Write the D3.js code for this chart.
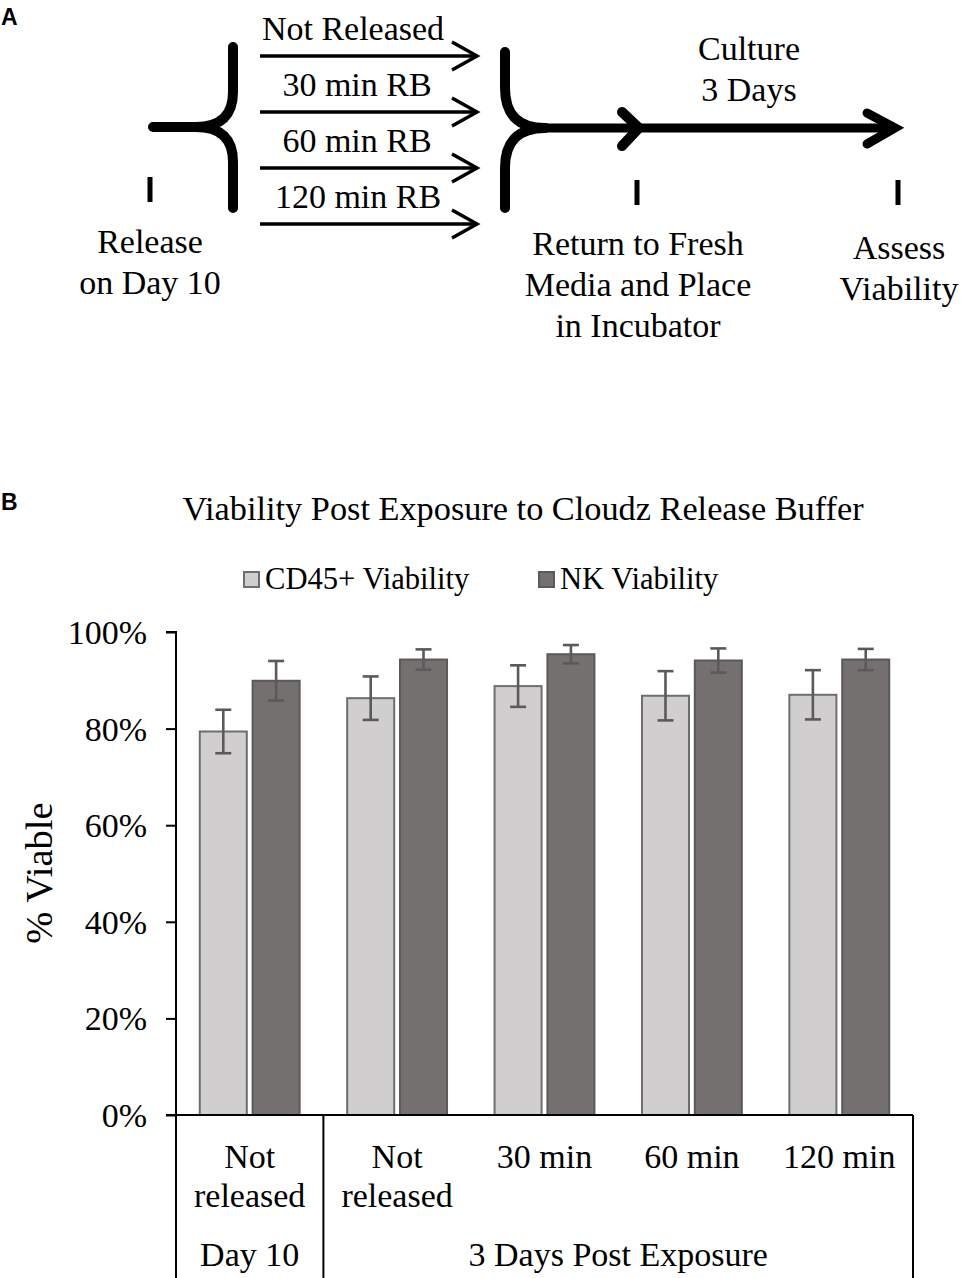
<!DOCTYPE html>
<html>
<head>
<meta charset="utf-8">
<script src="https://cdn.jsdelivr.net/npm/d3@7"></script>
<style>
  html, body { margin: 0; padding: 0; background: #fff; }
  svg { display: block; }
  text { font-family: "Liberation Serif", "Times New Roman", serif; fill: #000; }
</style>
</head>
<body>
<svg id="fig" width="961" height="1278"></svg>
<script>
// ---------------- DATA ----------------
const categories = ["Not released|D10", "Not released|D3", "30 min", "60 min", "120 min"];
const categoryLabels = [["Not", "released"], ["Not", "released"], ["30 min"], ["60 min"], ["120 min"]];
const groupLabels = ["Day 10", "3 Days Post Exposure"];
const groupSpans = [1, 4];
const seriesNames = ["CD45+ Viability", "NK Viability"];
const cd45Values = [79.4, 86.3, 88.8, 86.8, 87.0];
const cd45Errors = [4.5, 4.5, 4.3, 5.1, 5.1];
const nkValues = [89.9, 94.3, 95.4, 94.1, 94.3];
const nkErrors = [4.1, 2.1, 1.9, 2.5, 2.2];
const yTicks = [0, 20, 40, 60, 80, 100];
const chartTitle = "Viability Post Exposure to Cloudz Release Buffer";
const yAxisLabel = "% Viable";
const diagramBranchLabels = ["Not Released", "30 min RB", "60 min RB", "120 min RB"];
const diagramStep1 = ["Release", "on Day 10"];
const diagramStep2 = ["Return to Fresh", "Media and Place", "in Incubator"];
const diagramStep3 = ["Assess", "Viability"];
const diagramCulture = ["Culture", "3 Days"];

// ---------------- SETUP ----------------
const svg = d3.select("#fig");
const SERIF = "'Liberation Serif', 'Times New Roman', serif";
const SANS = "'Liberation Sans', Arial, sans-serif";
const DFS = "34px";

// ================= PANEL A (schematic) =================
svg.append("text").attr("x", 1).attr("y", 25)
  .style("font-family", SANS).style("font-weight", "bold").style("font-size", "23px")
  .text("A");

const gA = svg.append("g");

// left tick + label
gA.append("line").attr("x1", 150).attr("x2", 150).attr("y1", 177).attr("y2", 202)
  .attr("stroke", "#000").attr("stroke-width", 5);
diagramStep1.forEach((t, i) => {
  gA.append("text").attr("x", 150).attr("y", 253 + i * 41).attr("text-anchor", "middle")
    .style("font-size", DFS).text(t);
});

// left bracket (stem + two arms)
gA.append("path")
  .attr("d", "M153,127 L196,127 Q233,127 233,92 L233,47")
  .attr("fill", "none").attr("stroke", "#000").attr("stroke-width", 10)
  .attr("stroke-linecap", "round").attr("stroke-linejoin", "round");
gA.append("path")
  .attr("d", "M196,127 Q233,127 233,162 L233,208")
  .attr("fill", "none").attr("stroke", "#000").attr("stroke-width", 10)
  .attr("stroke-linecap", "round");
gA.append("rect").attr("x", 153).attr("y", 122).attr("width", 10).attr("height", 10).attr("fill", "#000");

// thin arrows
const arrowY = [56, 112, 168, 224];
const labelX = [353, 357, 357, 358];
diagramBranchLabels.forEach((t, i) => {
  const y = arrowY[i];
  gA.append("line").attr("x1", 260).attr("x2", 475).attr("y1", y).attr("y2", y)
    .attr("stroke", "#000").attr("stroke-width", 3.5);
  gA.append("path").attr("d", `M452,${y - 14} L477,${y} L452,${y + 14}`)
    .attr("fill", "none").attr("stroke", "#000").attr("stroke-width", 3.5);
  gA.append("text").attr("x", labelX[i]).attr("y", y - 16).attr("text-anchor", "middle")
    .style("font-size", DFS).text(t);
});

// right bracket
gA.append("path")
  .attr("d", "M505,52 L505,88 Q505,128 545,128")
  .attr("fill", "none").attr("stroke", "#000").attr("stroke-width", 10)
  .attr("stroke-linecap", "round");
gA.append("path")
  .attr("d", "M505,208 L505,168 Q505,128 545,128")
  .attr("fill", "none").attr("stroke", "#000").attr("stroke-width", 10)
  .attr("stroke-linecap", "round");
// long line
gA.append("line").attr("x1", 540).attr("x2", 893).attr("y1", 128).attr("y2", 128)
  .attr("stroke", "#000").attr("stroke-width", 9);
// chevrons
gA.append("path").attr("d", "M622,112 L639,128 L622,146")
  .attr("fill", "none").attr("stroke", "#000").attr("stroke-width", 10)
  .attr("stroke-linecap", "round").attr("stroke-linejoin", "miter");
gA.append("path").attr("d", "M867,113 L895,128 L867,144")
  .attr("fill", "none").attr("stroke", "#000").attr("stroke-width", 9)
  .attr("stroke-linecap", "round").attr("stroke-linejoin", "miter");

// ticks
[637, 898].forEach(x => {
  gA.append("line").attr("x1", x).attr("x2", x).attr("y1", 180).attr("y2", 205)
    .attr("stroke", "#000").attr("stroke-width", 5);
});

diagramCulture.forEach((t, i) => {
  gA.append("text").attr("x", 749).attr("y", 60 + i * 41).attr("text-anchor", "middle")
    .style("font-size", DFS).text(t);
});
diagramStep2.forEach((t, i) => {
  gA.append("text").attr("x", 638).attr("y", 255 + i * 41).attr("text-anchor", "middle")
    .style("font-size", DFS).text(t);
});
diagramStep3.forEach((t, i) => {
  gA.append("text").attr("x", 899).attr("y", 259 + i * 41).attr("text-anchor", "middle")
    .style("font-size", DFS).text(t);
});

// ================= PANEL B (bar chart) =================
svg.append("text").attr("x", 1).attr("y", 510)
  .style("font-family", SANS).style("font-weight", "bold").style("font-size", "23px")
  .text("B");

svg.append("text").attr("x", 523).attr("y", 520).attr("text-anchor", "middle")
  .style("font-size", "34.3px").text(chartTitle);

const plot = { left: 176, right: 913, top: 632, bottom: 1115 };

const y = d3.scaleLinear().domain([0, 100]).range([plot.bottom, plot.top]);
const x0 = d3.scaleBand().domain(categories).range([plot.left, plot.right]).padding(0);
const x1 = d3.scaleBand().domain(seriesNames).range([0, x0.bandwidth()])
  .paddingInner(0.11).paddingOuter(0.45);

const fills = ["#d0cecf", "#757070"];
const strokes = ["#6e6e6e", "#5c5959"];

// legend
const legendX = [243, 538];
seriesNames.forEach((s, i) => {
  svg.append("rect").attr("x", legendX[i] + 1).attr("y", 572).attr("width", 15).attr("height", 15)
    .attr("fill", fills[i]).attr("stroke", strokes[i]).attr("stroke-width", 2);
  svg.append("text").attr("x", legendX[i] + 22).attr("y", 589)
    .style("font-size", "30.6px").text(s);
});

// data table built from arrays
const table = categories.map((c, i) => ({
  cat: c,
  bars: [
    { s: seriesNames[0], v: cd45Values[i], e: cd45Errors[i], k: 0 },
    { s: seriesNames[1], v: nkValues[i], e: nkErrors[i], k: 1 }
  ]
}));

const gBars = svg.append("g");
const grp = gBars.selectAll("g.cat").data(table).join("g")
  .attr("transform", d => `translate(${x0(d.cat)},0)`);

grp.selectAll("rect").data(d => d.bars).join("rect")
  .attr("x", d => x1(d.s))
  .attr("y", d => y(d.v))
  .attr("width", x1.bandwidth())
  .attr("height", d => y(0) - y(d.v))
  .attr("fill", d => fills[d.k])
  .attr("stroke", d => strokes[d.k])
  .attr("stroke-width", 2);

// error bars
const errCol = "#5a5a5a";
const capW = 16;
grp.selectAll("g.err").data(d => d.bars).join("g").each(function (d) {
  const g = d3.select(this);
  const cx = x1(d.s) + x1.bandwidth() / 2;
  g.append("line").attr("x1", cx).attr("x2", cx).attr("y1", y(d.v + d.e)).attr("y2", y(d.v - d.e))
    .attr("stroke", errCol).attr("stroke-width", 2.6);
  [d.v + d.e, d.v - d.e].forEach(v => {
    g.append("line").attr("x1", cx - capW / 2).attr("x2", cx + capW / 2).attr("y1", y(v)).attr("y2", y(v))
      .attr("stroke", errCol).attr("stroke-width", 2.6);
  });
});

// y axis
const yAxis = d3.axisLeft(y).tickValues(yTicks).tickFormat(d => d + "%").tickSize(10).tickPadding(19);
const gy = svg.append("g").attr("transform", `translate(${plot.left},0)`).call(yAxis);
gy.select(".domain").attr("stroke", "#000").attr("stroke-width", 2)
  .attr("d", `M-10,${plot.top}H0V${plot.bottom}`);
gy.selectAll(".tick line").attr("stroke", "#000").attr("stroke-width", 2);
gy.selectAll(".tick text").style("font-family", SERIF).style("font-size", "34px").attr("fill", "#000")
  .attr("dy", "0.34em");

// y label
svg.append("text").attr("transform", `translate(52,873) rotate(-90)`).attr("text-anchor", "middle")
  .style("font-size", "38.5px").text(yAxisLabel);

// x axis baseline (with left tick extension)
svg.append("line").attr("x1", plot.left - 10).attr("x2", plot.right).attr("y1", plot.bottom).attr("y2", plot.bottom)
  .attr("stroke", "#000").attr("stroke-width", 2);

// category labels
categories.forEach((c, i) => {
  const cx = x0(c) + x0.bandwidth() / 2;
  const lines = categoryLabels[i];
  lines.forEach((t, j) => {
    const yy = lines.length === 2 ? 1168 + j * 39 : 1168;
    svg.append("text").attr("x", cx).attr("y", yy).attr("text-anchor", "middle")
      .style("font-size", "34px").text(t);
  });
});

// group separators and labels
let idx = 0;
const seps = [plot.left];
groupLabels.forEach((g, gi) => {
  const start = x0(categories[idx]);
  idx += groupSpans[gi];
  const end = x0(categories[idx - 1]) + x0.bandwidth();
  seps.push(end);
  svg.append("text").attr("x", (start + end) / 2).attr("y", 1266).attr("text-anchor", "middle")
    .style("font-size", "34px").text(g);
});
seps.forEach(sx => {
  svg.append("line").attr("x1", sx).attr("x2", sx).attr("y1", plot.bottom).attr("y2", 1278)
    .attr("stroke", "#000").attr("stroke-width", 2);
});
</script>
</body>
</html>
